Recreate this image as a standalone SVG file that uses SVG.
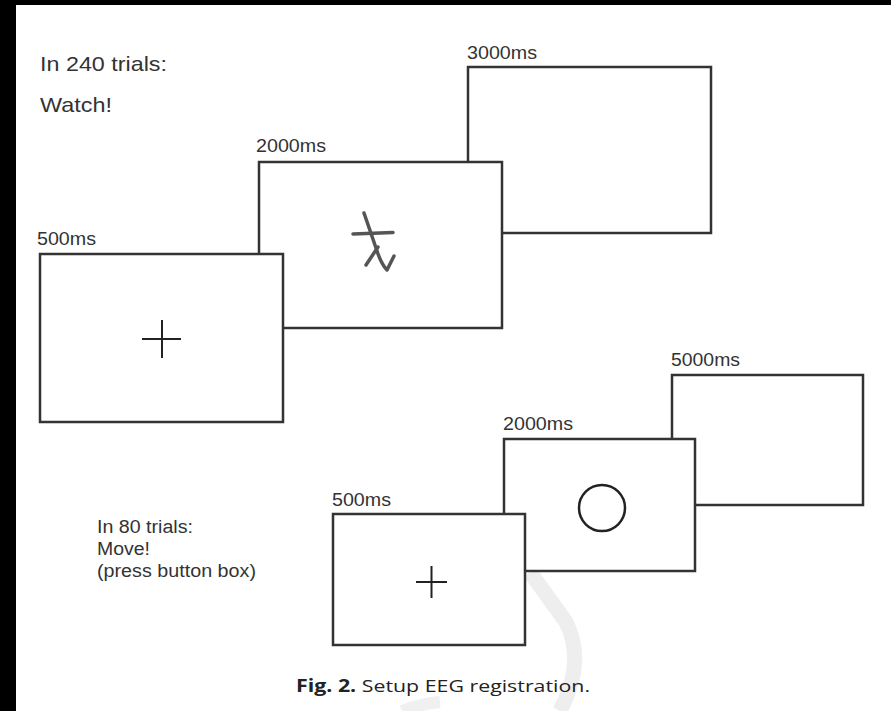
<svg xmlns="http://www.w3.org/2000/svg" width="891" height="711" viewBox="0 0 891 711">
<style>
.box{fill:#fff;stroke:#333;stroke-width:2.5}
.cross{stroke:#222;stroke-width:2;fill:none}
.lbl{font-family:"Liberation Sans",Arial,sans-serif;font-size:19px;fill:#333}
.txt{font-family:"Liberation Sans",Arial,sans-serif;font-size:21px;fill:#333}
.sm{font-family:"Liberation Sans",Arial,sans-serif;font-size:18px;fill:#333}
.cap{font-family:"Open Sans","Liberation Sans",sans-serif;font-size:17px;fill:#222}
</style>
<rect x="0" y="0" width="891" height="711" fill="#fff"/>
<rect x="0" y="0" width="891" height="5" fill="#000"/>
<rect x="0" y="0" width="16" height="711" fill="#000"/>
<path d="M530 572 L566 622 Q586 662 560 711" fill="none" stroke="#eeeeee" stroke-width="15"/>
<path d="M402 711 Q420 704 440 702" fill="none" stroke="#f0f0f0" stroke-width="12"/>
<g id="intro-text">
<text class="txt" x="40" y="71" textLength="127" lengthAdjust="spacingAndGlyphs">In 240 trials:</text>
<text class="txt" x="40" y="112" textLength="72" lengthAdjust="spacingAndGlyphs">Watch!</text>
</g>
<g id="watch-3000">
<rect class="box" x="468" y="67" width="243" height="166"/>
<text class="lbl" x="467" y="59" textLength="70" lengthAdjust="spacingAndGlyphs">3000ms</text>
</g>
<g id="watch-2000">
<rect class="box" x="259" y="162" width="243" height="166"/>
<text class="lbl" x="256" y="152" textLength="70" lengthAdjust="spacingAndGlyphs">2000ms</text>
<g fill="none" stroke="#555" stroke-width="3.5" stroke-linecap="round" stroke-linejoin="round">
<path d="M353 234 L393 232.5"/>
<path d="M364 213 L376 248 Q381 264 387 270 L394 256"/>
<path d="M366 265 L378 247"/>
</g>
</g>
<g id="watch-500">
<rect class="box" x="40" y="254" width="243" height="168"/>
<text class="lbl" x="37" y="245" textLength="59" lengthAdjust="spacingAndGlyphs">500ms</text>
<path class="cross" d="M142 339 H181 M162 320 V358"/>
</g>
<g id="move-text">
<text class="sm" x="97" y="533" textLength="96" lengthAdjust="spacingAndGlyphs">In 80 trials:</text>
<text class="sm" x="97" y="555" textLength="53" lengthAdjust="spacingAndGlyphs">Move!</text>
<text class="sm" x="97" y="577" textLength="159" lengthAdjust="spacingAndGlyphs">(press button box)</text>
</g>
<g id="move-5000">
<rect class="box" x="672" y="375" width="191" height="130"/>
<text class="lbl" x="671" y="366" textLength="69" lengthAdjust="spacingAndGlyphs">5000ms</text>
</g>
<g id="move-2000">
<rect class="box" x="504" y="439" width="191" height="132"/>
<text class="lbl" x="503" y="430" textLength="70" lengthAdjust="spacingAndGlyphs">2000ms</text>
<circle cx="602" cy="508" r="23" fill="none" stroke="#222" stroke-width="2.5"/>
</g>
<g id="move-500">
<rect class="box" x="333" y="514" width="192" height="131"/>
<text class="lbl" x="332" y="506" textLength="59" lengthAdjust="spacingAndGlyphs">500ms</text>
<path class="cross" d="M416 582 H447 M431.5 566 V598"/>
</g>
<g id="connectors"></g>
<g id="caption">
<text class="cap" x="296" y="692" textLength="294" lengthAdjust="spacingAndGlyphs"><tspan font-weight="bold">Fig. 2.</tspan> Setup EEG registration.</text>
</g>
</svg>
